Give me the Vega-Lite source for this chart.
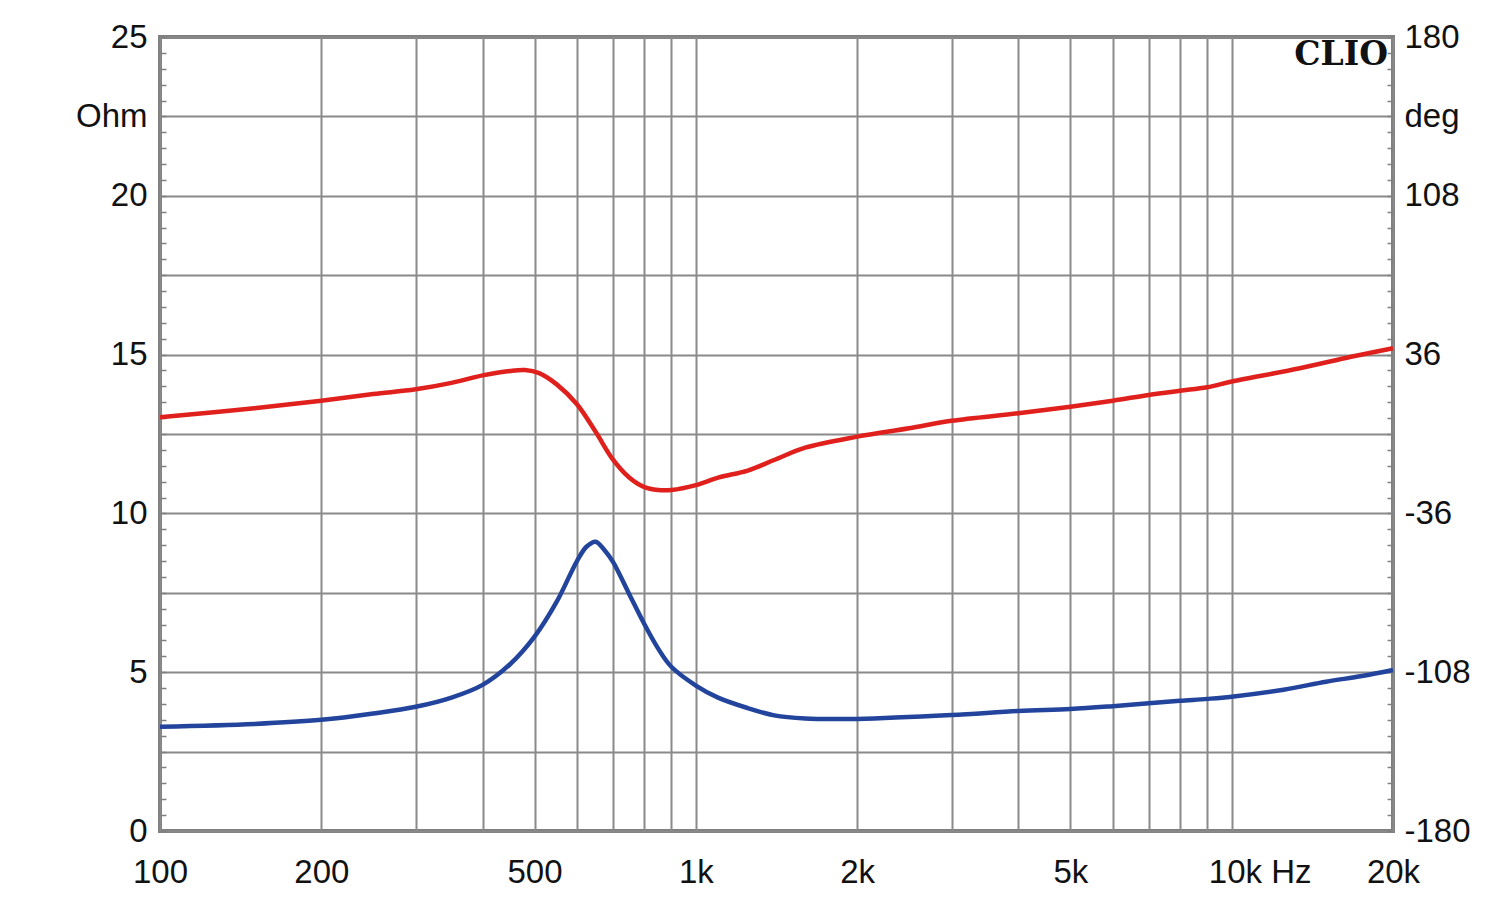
{
  "$schema": "https://vega.github.io/schema/vega-lite/v6.json",
  "width": 1233,
  "height": 794,
  "autosize": {"type": "none"},
  "padding": {"left": 160, "top": 37, "right": 107, "bottom": 71},
  "background": "white",
  "config": {
    "view": {"stroke": "#7f7f7f", "strokeWidth": 4},
    "axis": {
      "labelFont": "Liberation Sans",
      "labelFontSize": 33,
      "labelColor": "#111111",
      "domain": false,
      "title": null,
      "labelOverlap": false,
      "labelBound": false,
      "labelFlush": false
    }
  },
  "datasets": {
    "impedance": [
      {"f": 100, "ohm": 3.28}, {"f": 150, "ohm": 3.37}, {"f": 200, "ohm": 3.5},
      {"f": 250, "ohm": 3.7}, {"f": 300, "ohm": 3.91}, {"f": 350, "ohm": 4.2},
      {"f": 400, "ohm": 4.6}, {"f": 450, "ohm": 5.25}, {"f": 500, "ohm": 6.12},
      {"f": 550, "ohm": 7.22}, {"f": 600, "ohm": 8.5}, {"f": 625, "ohm": 8.95},
      {"f": 650, "ohm": 9.11}, {"f": 675, "ohm": 8.85}, {"f": 700, "ohm": 8.48},
      {"f": 750, "ohm": 7.48}, {"f": 800, "ohm": 6.54}, {"f": 850, "ohm": 5.75},
      {"f": 900, "ohm": 5.17}, {"f": 1000, "ohm": 4.58}, {"f": 1100, "ohm": 4.2},
      {"f": 1250, "ohm": 3.87}, {"f": 1400, "ohm": 3.64}, {"f": 1600, "ohm": 3.54},
      {"f": 2000, "ohm": 3.53}, {"f": 3000, "ohm": 3.65}, {"f": 4000, "ohm": 3.78},
      {"f": 5000, "ohm": 3.84}, {"f": 6000, "ohm": 3.93}, {"f": 7000, "ohm": 4.02},
      {"f": 8000, "ohm": 4.1}, {"f": 9000, "ohm": 4.16}, {"f": 10000, "ohm": 4.23},
      {"f": 12500, "ohm": 4.45}, {"f": 15000, "ohm": 4.7}, {"f": 17500, "ohm": 4.88},
      {"f": 20000, "ohm": 5.07}
    ],
    "phase": [
      {"f": 100, "deg": 7.6}, {"f": 150, "deg": 11.7}, {"f": 200, "deg": 15.1},
      {"f": 250, "deg": 18.1}, {"f": 300, "deg": 20.3}, {"f": 350, "deg": 23.2},
      {"f": 400, "deg": 26.6}, {"f": 450, "deg": 28.6}, {"f": 480, "deg": 29.0},
      {"f": 510, "deg": 27.6}, {"f": 550, "deg": 22.5}, {"f": 600, "deg": 13.5},
      {"f": 650, "deg": 1.0}, {"f": 700, "deg": -11.5}, {"f": 750, "deg": -19.6},
      {"f": 800, "deg": -24.0}, {"f": 850, "deg": -25.4}, {"f": 900, "deg": -25.4},
      {"f": 1000, "deg": -23.2}, {"f": 1100, "deg": -19.8}, {"f": 1250, "deg": -16.6},
      {"f": 1400, "deg": -11.8}, {"f": 1600, "deg": -6.2}, {"f": 2000, "deg": -1.2},
      {"f": 2500, "deg": 2.6}, {"f": 3000, "deg": 6.0}, {"f": 4000, "deg": 9.4},
      {"f": 5000, "deg": 12.4}, {"f": 6000, "deg": 15.1}, {"f": 7000, "deg": 17.7},
      {"f": 8000, "deg": 19.6}, {"f": 9000, "deg": 21.2}, {"f": 10000, "deg": 23.8},
      {"f": 13400, "deg": 29.8}, {"f": 16700, "deg": 35.0}, {"f": 20000, "deg": 38.9}
    ],
    "brand": [{"f": 20000, "ohm": 25, "t": "CLIO"}]
  },
  "encoding": {
    "x": {
      "field": "f",
      "type": "quantitative",
      "scale": {"type": "log", "domain": [100, 20000], "nice": false},
      "axis": {
        "orient": "bottom",
        "values": [100, 200, 300, 400, 500, 600, 700, 800, 900, 1000, 2000, 3000, 4000, 5000, 6000, 7000, 8000, 9000, 10000, 20000],
        "labelExpr": "datum.value == 100 ? '100' : datum.value == 200 ? '200' : datum.value == 500 ? '500' : datum.value == 1000 ? '1k' : datum.value == 2000 ? '2k' : datum.value == 5000 ? '5k' : datum.value == 10000 ? '10k Hz' : datum.value == 20000 ? '20k' : ''",
        "labelOffset": {"condition": {"test": "datum.value == 10000", "value": 28}, "value": 0},
        "ticks": false,
        "labelPadding": 25,
        "grid": true,
        "gridColor": "#8a8a8a",
        "gridWidth": 2
      }
    }
  },
  "layer": [
    {
      "data": {"name": "impedance"},
      "mark": {"type": "line", "color": "#22449c", "strokeWidth": 4.5, "interpolate": "catmull-rom"},
      "encoding": {
        "y": {
          "field": "ohm",
          "type": "quantitative",
          "scale": {"domain": [0, 25], "nice": false},
          "axis": {
            "orient": "left",
            "values": [0, 0.5, 1, 1.5, 2, 2.5, 3, 3.5, 4, 4.5, 5, 5.5, 6, 6.5, 7, 7.5, 8, 8.5, 9, 9.5, 10, 10.5, 11, 11.5, 12, 12.5, 13, 13.5, 14, 14.5, 15, 15.5, 16, 16.5, 17, 17.5, 18, 18.5, 19, 19.5, 20, 20.5, 21, 21.5, 22, 22.5, 23, 23.5, 24, 24.5, 25],
            "labelExpr": "datum.value % 5 == 0 ? ('' + datum.value) : (datum.value == 22.5 ? 'Ohm' : '')",
            "grid": true,
            "gridColor": "#8a8a8a",
            "gridWidth": 2,
            "gridOpacity": {"condition": {"test": "datum.value % 2.5 == 0", "value": 1}, "value": 0},
            "ticks": true,
            "tickSize": -6,
            "tickWidth": 1.5,
            "tickColor": "#808080",
            "labelPadding": 19
          }
        }
      }
    },
    {
      "data": {"name": "phase"},
      "mark": {"type": "line", "color": "#e0201c", "strokeWidth": 4.5, "interpolate": "catmull-rom"},
      "encoding": {
        "y": {
          "field": "deg",
          "type": "quantitative",
          "scale": {"domain": [-180, 180], "nice": false, "zero": false},
          "axis": {
            "orient": "right",
            "values": [-180, -172.8, -165.6, -158.4, -151.2, -144, -136.8, -129.6, -122.4, -115.2, -108, -100.8, -93.6, -86.4, -79.2, -72, -64.8, -57.6, -50.4, -43.2, -36, -28.8, -21.6, -14.4, -7.2, 0, 7.2, 14.4, 21.6, 28.8, 36, 43.2, 50.4, 57.6, 64.8, 72, 79.2, 86.4, 93.6, 100.8, 108, 115.2, 122.4, 129.6, 136.8, 144, 151.2, 158.4, 165.6, 172.8, 180],
            "labelExpr": "(abs(datum.value) == 180 || abs(datum.value) == 108 || abs(datum.value) == 36) ? ('' + datum.value) : (datum.value == 144 ? 'deg' : '')",
            "grid": false,
            "ticks": true,
            "tickSize": -6,
            "tickWidth": 1.5,
            "tickColor": "#808080",
            "labelPadding": 17
          }
        }
      }
    },
    {
      "data": {"name": "brand"},
      "mark": {"type": "text", "font": "DejaVu Serif", "fontWeight": "bold", "fontSize": 33, "align": "right", "baseline": "top", "dx": -5, "dy": 2, "color": "#111111"},
      "encoding": {
        "y": {"field": "ohm", "type": "quantitative", "scale": {"domain": [0, 25], "nice": false}, "axis": null},
        "text": {"field": "t"}
      }
    }
  ],
  "resolve": {"scale": {"y": "independent"}}
}
